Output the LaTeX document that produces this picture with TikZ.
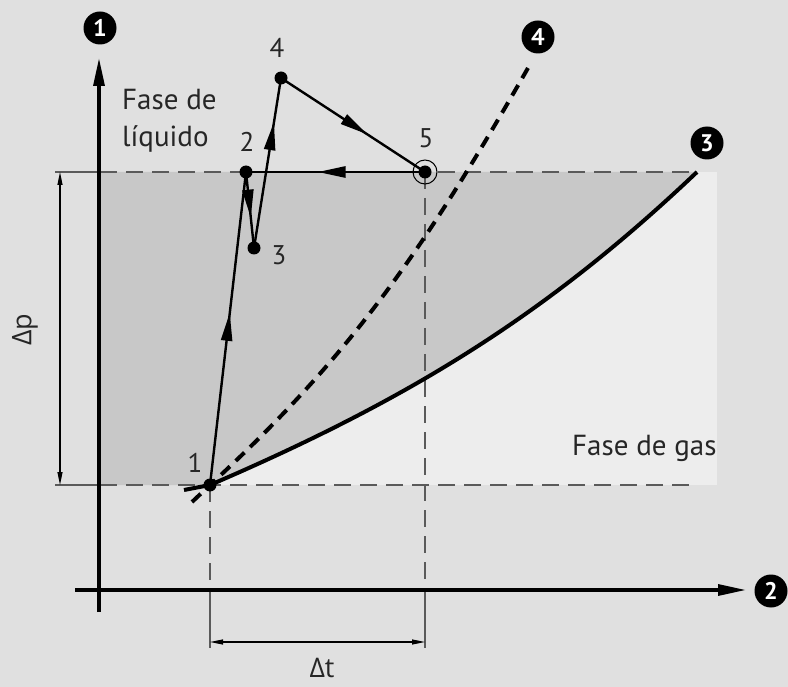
\documentclass[tikz,border=0pt]{standalone}
\usepackage{fontspec}
\setmainfont{PT Sans}
\newfontfamily\grk{Open Sans}
\usetikzlibrary{arrows.meta,decorations.markings}
\definecolor{bgc}{RGB}{224,224,224}
\definecolor{lightc}{RGB}{237,237,237}
\definecolor{darkc}{RGB}{200,200,200}
\definecolor{guidec}{RGB}{90,90,90}
\begin{document}
\begin{tikzpicture}[x=1pt,y=-1pt,
  txt/.style={font=\fontsize{29}{34}\selectfont, text=black!85, inner sep=0pt},
  grktxt/.style={font={\grk\fontsize{27}{30}\selectfont}, text=black!85, inner sep=0pt},
  numlbl/.style={font=\fontsize{27}{30}\selectfont, text=black!85, inner sep=0pt},
  badge/.style={circle, fill=black, text=white, inner sep=0pt, minimum size=33pt,
    font=\bfseries\fontsize{24}{24}\selectfont},
  axisline/.style={line width=3.2pt, -{Triangle[length=28pt,width=11pt]}},
  guide/.style={draw=guidec, line width=1.3pt, dash pattern=on 17pt off 9pt},
  extline/.style={draw=guidec, line width=1.3pt},
  dimline/.style={line width=1.1pt, {Triangle[length=13pt,width=5pt]}-{Triangle[length=13pt,width=5pt]}},
  pathseg/.style={line width=2.4pt, postaction={decorate}},
  midarrow/.style={decoration={markings, mark=at position #1 with {\arrow{Triangle[length=28pt,width=11pt]}}}},
  dotc/.style={circle, fill=black, inner sep=0pt, minimum size=13pt}
]
\useasboundingbox (0,0) rectangle (788,687);
\fill[bgc] (0,0) rectangle (788,687);

% coordinates
\coordinate (P1) at (210,485);
\coordinate (P2) at (246,172);
\coordinate (P3) at (254,248);
\coordinate (P4) at (281,78);
\coordinate (P5) at (425,172);
\coordinate (C3) at (697,172);
\coordinate (C4) at (528,68);

% regions
\fill[lightc] (100,172) rectangle (717,485);
\fill[darkc] (100,172) -- (C3) .. controls (547,314.5) and (410,399) .. (P1) -- (100,485) -- cycle;

% guide lines
\draw[guide] (100,172) -- (C3);
\draw[guide] (100,485) -- (697,485);
\draw[extline] (55,172) -- (100,172);
\draw[extline] (55,485) -- (100,485);
\draw[guide] (P1) -- (210,590);
\draw[guide] (P5) -- (425,590);
\draw[extline] (210,590) -- (210,648);
\draw[extline] (425,590) -- (425,648);

% dimensions
\coordinate (Dp1) at (60,172);
\coordinate (Dp2) at (60,485);
\draw[dimline] (Dp1) -- (Dp2);
\coordinate (Dt1) at (210,642);
\coordinate (Dt2) at (425,642);
\draw[dimline] (Dt1) -- (Dt2);
\node[grktxt, rotate=90] (dp) at (25,330) {Δp};
\node[grktxt] (dt) at (322,668) {Δt};

% axes
\coordinate (Ybot) at (99,612);
\coordinate (Ytop) at (99,58);
\coordinate (Xl) at (75,590);
\coordinate (Xr) at (746,590);
\draw[axisline] (Ybot) -- (Ytop);
\draw[axisline] (Xl) -- (Xr);

% curves
\draw[line width=4pt] (184,490) -- (P1) .. controls (410,399) and (547,314.5) .. (C3);
\draw[line width=4pt, dash pattern=on 12pt off 8pt] (192,502) -- (P1) .. controls (347,359) and (420,257) .. (C4);

% process path
\draw[pathseg, midarrow=0.55] (P1) -- (P2);
\draw[pathseg, midarrow=0.6] (P2) -- (P3);
\draw[pathseg, midarrow=0.74] (P3) -- (P4);
\draw[pathseg, midarrow=0.6] (P4) -- (P5);
\draw[pathseg, line width=2.8pt, midarrow=0.6] (P5) -- (P2);

\node[dotc] (d1) at (P1) {};
\node[dotc] (d2) at (P2) {};
\node[dotc] (d3) at (P3) {};
\node[dotc] (d4) at (P4) {};
\node[dotc] (d5) at (P5) {};
\draw[line width=1pt] (P5) circle (12pt);

% point labels
\node[numlbl, anchor=base] (l1) at (195,472) {1};
\node[numlbl, anchor=base] (l2) at (247,152) {2};
\node[numlbl, anchor=base] (l3) at (279,265) {3};
\node[numlbl, anchor=base] (l4) at (277,58) {4};
\node[numlbl, anchor=base] (l5) at (426,148) {5};

% phase labels
\node[txt, anchor=base west] (fl1) at (122,110) {Fase de};
\node[txt, anchor=base west] (fl2) at (122,147) {líquido};
\node[txt, anchor=base west] (fg) at (572,455) {Fase de gas};

% badges
\node[badge] (b1) at (100,28) {1};
\node[badge] (b2) at (771,591) {2};
\node[badge] (b3) at (707,143) {3};
\node[badge] (b4) at (538,37) {4};
\end{tikzpicture}
\end{document}
